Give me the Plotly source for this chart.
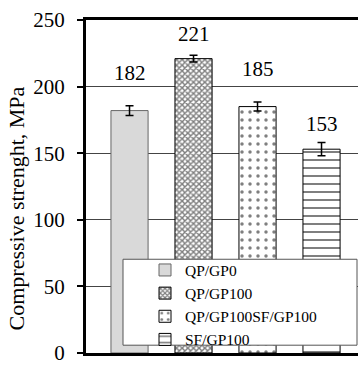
import plotly.graph_objects as go

# Compressive strength of the four mixes (MPa) with their scatter
mixes = ["QP/GP0", "QP/GP100", "QP/GP100SF/GP100", "SF/GP100"]
strength = [182, 221, 185, 153]
spread = [3.7, 2.5, 3.4, 5.0]
y_ticks = [0, 50, 100, 150, 200, 250]

FONT = "Liberation Serif, Times New Roman, serif"

# fill style for each mix
styles = [
    dict(color="#d9d9d9", line=dict(color="#666666", width=1)),
    dict(color="white", line=dict(color="black", width=1),
         pattern=dict(shape="x", size=4, solidity=0.6, fgcolor="black", bgcolor="white")),
    dict(color="white", line=dict(color="black", width=1),
         pattern=dict(shape=".", size=8, solidity=0.15, fgcolor="black", bgcolor="white")),
    dict(color="white", line=dict(color="black", width=1),
         pattern=dict(shape="-", size=8, solidity=0.25, fgcolor="black", bgcolor="white")),
]
# vertical lift of each value label above its error bar, px
label_lift = [31, 19, 31, 17]

fig = go.Figure()
for i, name in enumerate(mixes):
    fig.add_trace(go.Bar(
        x=[i], y=[strength[i]], name=name, width=0.58,
        marker=styles[i],
        error_y=dict(type="data", array=[spread[i]], color="black", thickness=1.5, width=4),
    ))
    fig.add_annotation(
        x=i, y=strength[i] + spread[i], text=str(strength[i]), showarrow=False,
        yanchor="bottom", yshift=label_lift[i] - 12,
        font=dict(family=FONT, size=21, color="black"),
    )

# axis title, set a little below the middle of the axis
fig.add_annotation(
    xref="paper", yref="paper", x=-86 / 272, xshift=16, xanchor="center",
    y=(361 - 213) / 341, yanchor="middle", textangle=-90, showarrow=False,
    text="Compressive strenght, MPa", font=dict(family=FONT, size=22, color="black"),
)

# frame behind the legend entries
fig.add_shape(type="rect", xref="paper", yref="paper",
              x0=(123 - 86) / 272, x1=(357 - 86) / 272,
              y0=(361 - 353) / 341, y1=(361 - 265) / 341,
              fillcolor="white", line=dict(color="#555555", width=1), layer="above")

fig.update_layout(
    width=358, height=365,
    margin=dict(l=86, r=0, t=20, b=4),
    paper_bgcolor="white", plot_bgcolor="white",
    barmode="overlay",
    showlegend=True,
    legend=dict(
        x=(145 - 86) / 272, y=(361 - 259) / 341, xanchor="left", yanchor="top",
        bgcolor="rgba(0,0,0,0)", borderwidth=0, itemwidth=30,
        font=dict(family=FONT, size=15.5, color="black"),
        tracegroupgap=0,
    ),
    xaxis=dict(range=[-0.68, 3.57], showticklabels=False, ticks="", showgrid=False,
               showline=True, linecolor="black", linewidth=2.5, mirror=True, zeroline=False),
    yaxis=dict(range=[0, 250], tickvals=y_ticks, ticks="outside", ticklen=6,
               tickwidth=1.5, tickcolor="black", showline=True, linecolor="black",
               linewidth=3, showgrid=True, gridcolor="#444444", gridwidth=1, zeroline=False,
               ticklabelstandoff=8, ticklabeloverflow="allow",
               tickfont=dict(family=FONT, size=21, color="black")),
)

fig.write_html("out.html")
